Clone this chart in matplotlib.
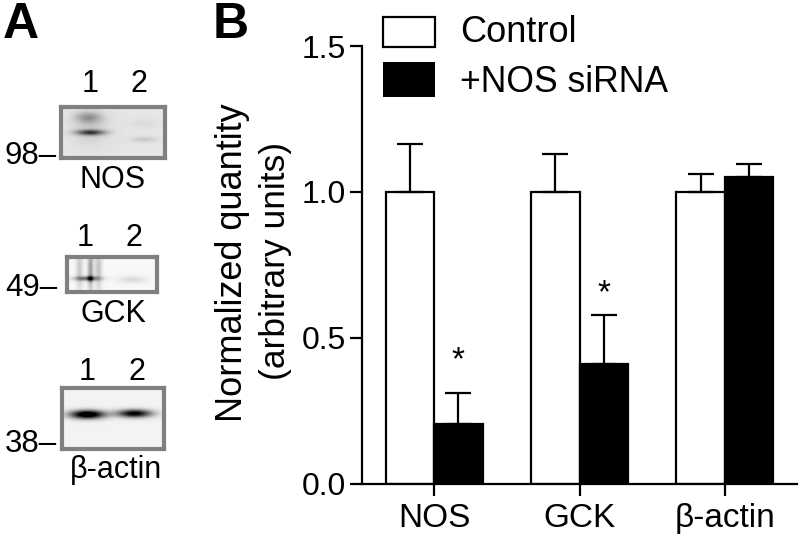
import numpy as np
import matplotlib
matplotlib.use('Agg')
import matplotlib.pyplot as plt
from matplotlib.patches import Rectangle

plt.rcParams['font.family'] = ['Liberation Sans', 'DejaVu Sans']

W, H = 800, 537

# panel B values
groups = ['NOS', 'GCK', 'β-actin']
control = [1.0, 1.0, 1.0]
control_err = [0.165, 0.13, 0.06]
sirna = [0.205, 0.41, 1.05]
sirna_err = [0.105, 0.168, 0.045]
star_y = [0.42, 0.65]
y_ticks = [0.0, 0.5, 1.0, 1.5]

# panel A blots: x0, x1, y0, y1 in pixels, background grey
blot_names = ['NOS', 'GCK', 'β-actin']
blot_boxes = [(61, 165, 107, 158), (67, 157, 257, 292), (62, 164, 388, 449)]
blot_bg = [0.90, 0.97, 0.95]
# bands: x, y, sigma x, sigma y, darkness
blot_bands = [
    [(90, 132, 10, 2.0, 0.62), (88, 117, 9, 4, 0.28), (90, 128, 13, 12, 0.10),
     (143, 139, 9, 2.0, 0.12), (143, 123, 11, 3, 0.04)],
    [(87, 278, 9, 1.6, 0.55), (90, 278, 2, 2, 0.35), (90, 268, 2, 16, 0.35),
     (79, 268, 2.5, 16, 0.18), (98, 268, 2.5, 16, 0.20), (132, 279, 10, 2.5, 0.12)],
    [(87, 414, 12, 3.0, 1.2), (134, 413, 12, 2.8, 1.0)],
]
lane_labels = [(90, 139, 84), (85, 134, 238), (87, 137, 372)]
blot_name_pos = [(113, 180), (113, 314), (116, 470)]
marker_labels = ['98–', '49–', '38–']
marker_pos = [(5, 156), (5, 288), (5, 444)]


def px_axes(x0, x1, y0, y1):
    return fig.add_axes([x0 / W, 1 - y1 / H, (x1 - x0) / W, (y1 - y0) / H])


fig = plt.figure(figsize=(W / 100, H / 100), dpi=100)

# bar panel
ax = px_axes(362, 797, 46, 483.5)
x = np.arange(3)
bw = 1 / 3
err_kw = dict(lw=1.6, capsize=9.5, capthick=1.6, ecolor='black')
ax.bar(x - bw / 2, control, bw, color='white', edgecolor='black', lw=1.6,
       yerr=[[0, 0, 0], control_err], error_kw=err_kw)
ax.bar(x + bw / 2, sirna, bw, color='black', edgecolor='black', lw=1.6,
       yerr=[[0, 0, 0], sirna_err], error_kw=err_kw)
ax.set_xlim(-0.495, 2.495)
ax.set_ylim(0, 1.5)
ax.set_yticks(y_ticks)
ax.set_yticklabels(['%.1f' % t for t in y_ticks])
ax.set_xticks(x)
ax.set_xticklabels(groups)
ax.tick_params(length=8.5, width=1.6, labelsize=23, pad=3)
ax.tick_params(axis='x', labelsize=24, pad=5.5)
ax.spines['top'].set_visible(False)
ax.spines['right'].set_visible(False)
ax.spines['left'].set_linewidth(1.6)
ax.spines['bottom'].set_linewidth(1.6)
for i in range(2):
    ax.text(x[i] + bw / 2, star_y[i], '*', ha='center', va='center', fontsize=24)

# overlay in pixel coordinates for labels and legend
ov = fig.add_axes([0, 0, 1, 1], zorder=5)
ov.set_xlim(0, W)
ov.set_ylim(H, 0)
ov.axis('off')
ov.patch.set_alpha(0)

ov.text(3, 38, 'A', fontsize=36, fontweight='bold', ha='left', va='baseline')
ov.text(213, 38, 'B', fontsize=36, fontweight='bold', ha='left', va='baseline')
ov.text(233, 263, 'Normalized quantity', rotation=90, fontsize=26, ha='center', va='center')
ov.text(276, 261, '(arbitrary units)', rotation=90, fontsize=25.5, ha='center', va='center')

ov.add_patch(Rectangle((383, 17), 52, 30, fc='white', ec='black', lw=1.6))
ov.add_patch(Rectangle((383, 62), 52, 35, fc='black', ec='black', lw=0))
ov.text(460, 33, 'Control', fontsize=26, va='center')
ov.text(460, 83, '+NOS siRNA', fontsize=25.6, va='center')

# blots
for box, bg, bands in zip(blot_boxes, blot_bg, blot_bands):
    x0, x1, y0, y1 = box
    xx, yy = np.meshgrid(np.arange(x0, x1), np.arange(y0, y1))
    dark = np.zeros(xx.shape)
    for bx, by, sx, sy, amp in bands:
        dark += amp * np.exp(-(xx - bx) ** 2 / (2 * sx ** 2) - (yy - by) ** 2 / (2 * sy ** 2))
    img = np.clip(bg - dark, 0, 1)
    b = px_axes(x0, x1, y0, y1)
    b.imshow(img, cmap='gray', vmin=0, vmax=1, aspect='auto', interpolation='bilinear')
    b.set_xticks([])
    b.set_yticks([])
    for s in b.spines.values():
        s.set_color('#808080')
        s.set_linewidth(3)

for name, pos in zip(blot_names, blot_name_pos):
    ov.text(pos[0], pos[1], name, fontsize=22, ha='center', va='center')
for lx1, lx2, ly in lane_labels:
    ov.text(lx1, ly, '1', fontsize=22, ha='center', va='center')
    ov.text(lx2, ly, '2', fontsize=22, ha='center', va='center')
for lab, pos in zip(marker_labels, marker_pos):
    ov.text(pos[0], pos[1], lab, fontsize=22.5, ha='left', va='center')

fig.savefig('out.png', dpi=100)
